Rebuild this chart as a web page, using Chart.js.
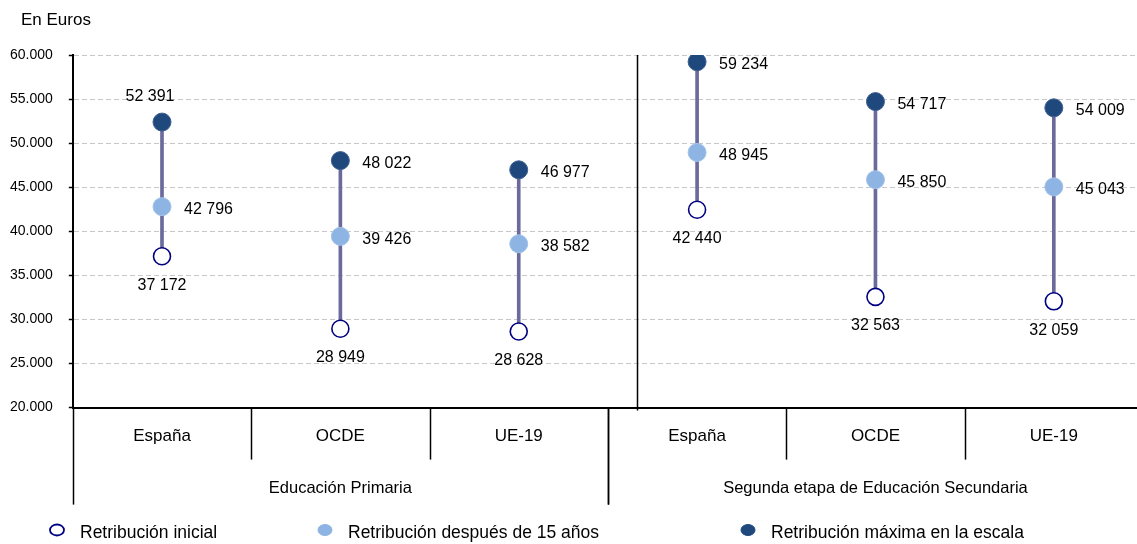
<!DOCTYPE html>
<html lang="es">
<head>
<meta charset="utf-8">
<title>Retribución del profesorado</title>
<script src="https://cdn.jsdelivr.net/npm/chart.js@4.4.1/dist/chart.umd.min.js"></script>
<style>
    html, body { margin: 0; padding: 0; background: #fff; overflow: hidden; }
    /* the plot runs a few pixels past the right edge, as in the original */
    canvas { display: block; }
</style>
</head>
<body>
<canvas id="salaryChart" width="1143" height="544"></canvas>
<script>
// datos
const categories = ['España', 'OCDE', 'UE-19', 'España', 'OCDE', 'UE-19'];
const groups = ['Educación Primaria', 'Segunda etapa de Educación Secundaria'];
const groupSize = [3, 3];
const seriesNames = ['Retribución inicial', 'Retribución después de 15 años', 'Retribución máxima en la escala'];
const retribucionInicial = [37172, 28949, 28628, 42440, 32563, 32059];
const retribucion15 = [42796, 39426, 38582, 48945, 45850, 45043];
const retribucionMaxima = [52391, 48022, 46977, 59234, 54717, 54009];
const yMin = 20000;
const yMax = 60000;
const yStep = 5000;

// where each value label sits relative to its point
const inicialLabelPos = ['below', 'below', 'below', 'below', 'below', 'below'];
const medioLabelPos = ['right', 'right', 'right', 'right', 'right', 'right'];
const maximaLabelPos = ['above', 'right', 'right', 'right', 'right', 'right'];

const FONT = "'Liberation Sans', Arial, sans-serif";
const DARK = '#1f497d';
const LIGHT = '#8db4e2';
const OPEN = '#000080';
const STEM = '#6a6a9c';

Chart.defaults.font.family = FONT;
Chart.defaults.color = '#000';

function thousandsSpace(v) {
    return String(v).replace(/\B(?=(\d{3})+(?!\d))/g, ' ');
}
function thousandsDot(v) {
    return String(v).replace(/\B(?=(\d{3})+(?!\d))/g, '.');
}

const valueLabels = {
    id: 'valueLabels',
    afterDatasetsDraw(chart) {
        const ctx = chart.ctx;
        ctx.save();
        ctx.font = '16px ' + FONT;
        ctx.fillStyle = '#000';
        chart.data.datasets.forEach((ds, di) => {
            if (!ds.labelPos) return;
            const meta = chart.getDatasetMeta(di);
            meta.data.forEach((pt, i) => {
                const txt = thousandsSpace(ds.data[i]);
                const pos = ds.labelPos[i];
                if (pos === 'right') {
                    ctx.textAlign = 'left';
                    ctx.textBaseline = 'middle';
                    ctx.fillText(txt, pt.x + 22, pt.y + 3);
                } else if (pos === 'above') {
                    ctx.textAlign = 'center';
                    ctx.textBaseline = 'middle';
                    ctx.fillText(txt, pt.x - 12, pt.y - 25);
                } else {
                    ctx.textAlign = 'center';
                    ctx.textBaseline = 'middle';
                    ctx.fillText(txt, pt.x, pt.y + 29);
                }
            });
        });
        ctx.restore();
    }
};

// group boxes under the axis, the divider, heading and legend
const frame = {
    id: 'frame',
    afterDraw(chart) {
        const ctx = chart.ctx;
        const x = chart.scales.x;
        const area = chart.chartArea;
        ctx.save();
        ctx.strokeStyle = '#000';
        ctx.lineWidth = 1.5;

        let start = 0;
        groupSize.forEach((n, g) => {
            for (let k = 0; k <= n; k++) {
                const px = Math.round(x.getPixelForValue(start + k - 0.5)) + 0.5;
                const outer = (k === 0 || k === n);
                ctx.beginPath();
                ctx.moveTo(px, area.bottom);
                ctx.lineTo(px, area.bottom + (outer ? 97 : 52));
                ctx.stroke();
            }
            const mid = (x.getPixelForValue(start - 0.5) + x.getPixelForValue(start + n - 0.5)) / 2;
            ctx.font = '16.5px ' + FONT;
            ctx.fillStyle = '#000';
            ctx.textAlign = 'center';
            ctx.textBaseline = 'middle';
            ctx.fillText(groups[g], mid, area.bottom + 81);
            start += n;
        });

        // vertical divider inside the plot
        const dx = Math.round(x.getPixelForValue(2.663)) + 0.5;
        ctx.beginPath();
        ctx.moveTo(dx, area.top);
        ctx.lineTo(dx, area.bottom + 3);
        ctx.stroke();

        // heading
        ctx.font = '17px ' + FONT;
        ctx.textAlign = 'left';
        ctx.textBaseline = 'middle';
        ctx.fillText('En Euros', 21, 20);

        // legend
        const legendY = 533;
        const legendX = [57, 325, 748];
        const fills = ['#fff', LIGHT, DARK];
        const strokes = [OPEN, LIGHT, DARK];
        ctx.font = '17.5px ' + FONT;
        seriesNames.forEach((name, i) => {
            ctx.beginPath();
            ctx.ellipse(legendX[i], legendY - 3, 7, 5.5, 0, 0, Math.PI * 2);
            ctx.fillStyle = fills[i];
            ctx.fill();
            ctx.lineWidth = i === 0 ? 1.8 : 1;
            ctx.strokeStyle = strokes[i];
            ctx.stroke();
            ctx.fillStyle = '#000';
            ctx.fillText(name, legendX[i] + 23, legendY);
        });
        ctx.restore();
    }
};

const ctx = document.getElementById('salaryChart').getContext('2d');

new Chart(ctx, {
    type: 'bar',
    data: {
        labels: categories,
        datasets: [
            {
                type: 'line',
                label: seriesNames[2],
                data: retribucionMaxima,
                showLine: false,
                pointRadius: 9,
                pointHoverRadius: 9,
                pointBackgroundColor: DARK,
                pointBorderColor: '#3e5f8f',
                pointBorderWidth: 1,
                labelPos: maximaLabelPos,
                order: 0
            },
            {
                type: 'line',
                label: seriesNames[1],
                data: retribucion15,
                showLine: false,
                pointRadius: 9,
                pointHoverRadius: 9,
                pointBackgroundColor: LIGHT,
                pointBorderColor: '#a2c2e8',
                pointBorderWidth: 1,
                labelPos: medioLabelPos,
                order: 1
            },
            {
                type: 'line',
                label: seriesNames[0],
                data: retribucionInicial,
                showLine: false,
                pointRadius: 8.5,
                pointHoverRadius: 8.5,
                pointBackgroundColor: '#fff',
                pointBorderColor: OPEN,
                pointBorderWidth: 1.6,
                labelPos: inicialLabelPos,
                order: 2
            },
            {
                label: 'rango',
                data: categories.map((c, i) => [retribucionInicial[i], retribucionMaxima[i]]),
                backgroundColor: STEM,
                barThickness: 3,
                order: 5
            }
        ]
    },
    options: {
        responsive: false,
        animation: false,
        layout: {
            autoPadding: false,
            padding: { top: 55, left: 10, right: 0, bottom: 78 }
        },
        plugins: {
            legend: { display: false },
            tooltip: { enabled: false }
        },
        scales: {
            x: {
                offset: true,
                grid: { display: false, drawTicks: false },
                border: { display: true, color: '#000', width: 2 },
                ticks: {
                    padding: 19,
                    font: { size: 17 },
                    color: '#000',
                    maxRotation: 0
                },
                afterFit(scale) {
                    scale.paddingLeft = 0;
                    scale.paddingRight = 0;
                }
            },
            y: {
                min: yMin,
                max: yMax,
                grid: {
                    color: '#c8c8c8',
                    lineWidth: 1,
                    tickLength: 4,
                    tickColor: '#000',
                    tickWidth: 1.5
                },
                border: { display: true, color: '#000', width: 2, dash: [5, 3] },
                ticks: {
                    stepSize: yStep,
                    padding: 16,
                    font: { size: 14 },
                    color: '#000',
                    callback: (v) => thousandsDot(v)
                },
                afterFit(scale) {
                    // fit() counts the tick padding twice
                    scale.width -= scale.options.ticks.padding;
                }
            }
        }
    },
    plugins: [valueLabels, frame]
});
</script>
</body>
</html>
